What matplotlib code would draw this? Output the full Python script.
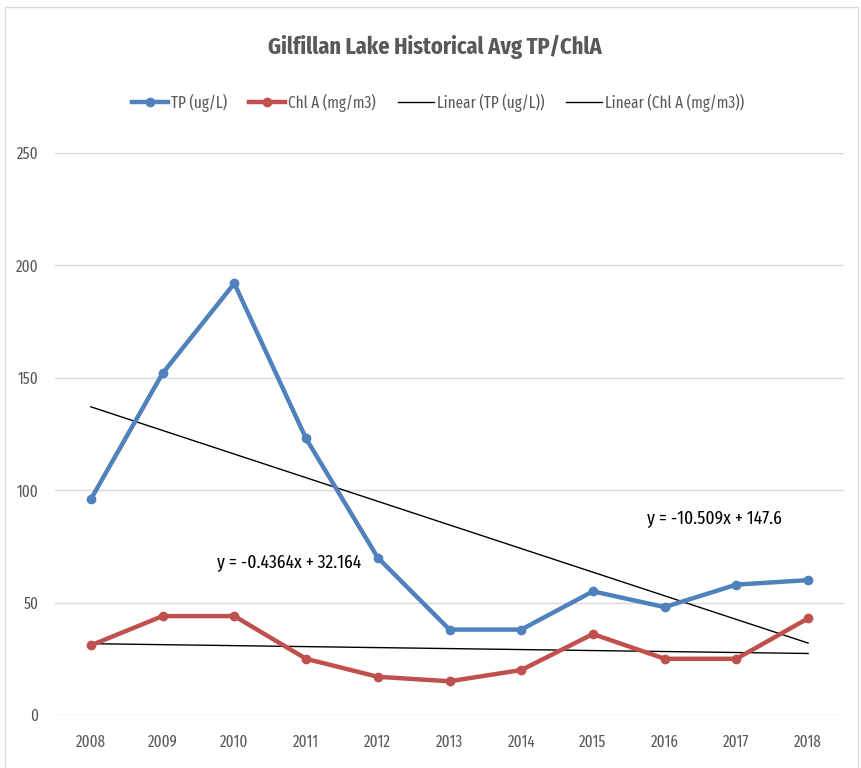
import numpy as np
import matplotlib
matplotlib.use("Agg")
import matplotlib.pyplot as plt
from matplotlib import font_manager as fm

years = ["2008", "2009", "2010", "2011", "2012", "2013", "2014", "2015", "2016", "2017", "2018"]
tp = [96, 152, 192, 123, 70, 38, 38, 55, 48, 58, 60]
chla = [31, 44, 44, 25, 17, 15, 20, 36, 25, 25, 43]
yticks = [0, 50, 100, 150, 200, 250]

names = {f.name for f in fm.fontManager.ttflist}
fam = "DejaVu Sans"
for c in ["Fira Sans Extra Condensed", "Sofia Sans Extra Condensed", "Roboto Condensed", "Carlito"]:
    if c in names:
        fam = c
        break
plt.rcParams['font.family'] = [fam, 'DejaVu Sans']

W, H = 861, 768
fig = plt.figure(figsize=(W / 100, H / 100), dpi=100)
renderer = fig.canvas.get_renderer()


def fit_size(s, target_px, **kw):
    t = fig.text(0, 0, s, fontsize=10, **kw)
    w = t.get_window_extent(renderer).width
    t.remove()
    return 10.0 * target_px / w


title_fs = fit_size("Gilfillan Lake Historical Avg TP/ChlA", 335, fontweight="bold")
tick_fs = fit_size("2008", 30)
leg_fs = fit_size("Linear (Chl A (mg/m3))", 139)
eq_fs = fit_size("y = -10.509x + 147.6", 135)
em = leg_fs * 100 / 72.0

ax = fig.add_axes([55 / W, 1 - 715 / H, (844 - 55) / W, (715 - 153) / H])

x = np.arange(1, len(years) + 1)
blue = "#4F81BD"
red = "#C0504D"
l1, = ax.plot(x, tp, color=blue, lw=3.2, marker='o', ms=6, label="TP (ug/L)", zorder=3)
l2, = ax.plot(x, chla, color=red, lw=3.2, marker='o', ms=6, label="Chl A (mg/m3)", zorder=3)

m1, b1 = np.polyfit(x, tp, 1)
m2, b2 = np.polyfit(x, chla, 1)
l3, = ax.plot(x, m1 * x + b1, color="black", lw=1, label="Linear (TP (ug/L))", zorder=2)
l4, = ax.plot(x, m2 * x + b2, color="black", lw=1, label="Linear (Chl A (mg/m3))", zorder=2)

ax.set_xlim(0.5, len(years) + 0.5)
ax.set_ylim(0, 250)
ax.set_yticks(yticks)
ax.set_xticks(x)
ax.set_xticklabels(years)
ax.grid(axis='y', color="#D9D9D9", lw=1)
ax.set_axisbelow(True)
for s in ax.spines.values():
    s.set_visible(False)
ax.tick_params(length=0, labelsize=tick_fs, colors="#595959")
ax.tick_params(axis='x', pad=14)
ax.tick_params(axis='y', pad=12)

ax.text(3.76, 68, "y = -0.4364x + 32.164", fontsize=eq_fs, ha="center", va="center", color="black")
ax.text(9.69, 87.6, "y = -10.509x + 147.6", fontsize=eq_fs, ha="center", va="center", color="black")

fig.text(435 / W, 1 - 47 / H, "Gilfillan Lake Historical Avg TP/ChlA", ha="center", va="center",
         fontsize=title_fs, fontweight="bold", color="#595959")
fig.legend(handles=[l1, l2, l3, l4], loc="center", bbox_to_anchor=(438 / W, 1 - 103 / H), ncol=4,
           frameon=False, fontsize=leg_fs, handlelength=36 / em, handletextpad=3 / em,
           columnspacing=22 / em, borderpad=0, borderaxespad=0, labelcolor="#595959")

fig.add_artist(plt.Rectangle((5 / W, -0.01), (858 - 5) / W, 1 - 7 / H + 0.01, transform=fig.transFigure,
                             fill=False, ec="#D9D9D9", lw=1))

fig.savefig("out.png", dpi=100)
